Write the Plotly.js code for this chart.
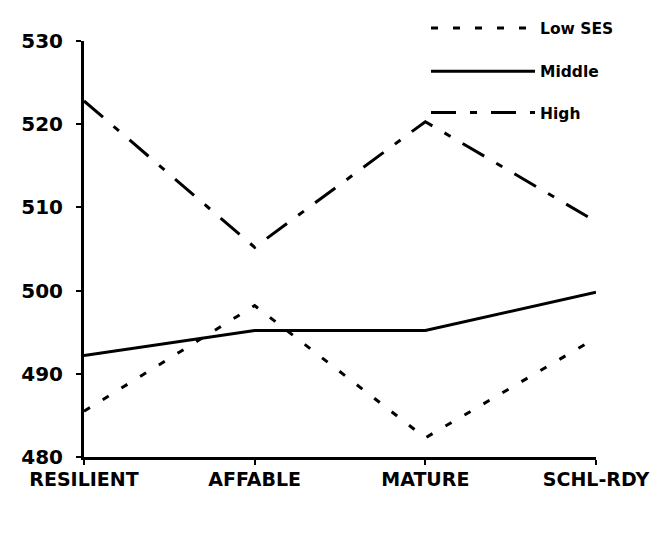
<!DOCTYPE html>
<html>
<head>
<meta charset="utf-8">
<script src="https://cdn.plot.ly/plotly-3.0.1.min.js"></script>
<style>
  html, body { margin: 0; padding: 0; background: #fff; }
  #chart { width: 666px; height: 537px; }
</style>
</head>
<body>
<div id="chart"></div>
<script>
const categories = ['RESILIENT', 'AFFABLE', 'MATURE', 'SCHL-RDY'];
const lowSes = [485.5, 498.2, 482.3, 494.3];
const middle = [492.2, 495.2, 495.2, 499.8];
const high = [522.8, 505.2, 520.3, 508.3];
const yTicks = [480, 490, 500, 510, 520, 530];

const font = { family: 'DejaVu Sans, Arial, sans-serif', size: 16, color: '#000', weight: 'bold' };

const traceLow = {
  x: categories,
  y: lowSes,
  name: 'Low SES',
  mode: 'lines',
  type: 'scatter',
  line: { color: '#000', width: 3, dash: '7px,15px' },
  legend: 'legend'
};

const traceMid = {
  x: categories,
  y: middle,
  name: 'Middle',
  mode: 'lines',
  type: 'scatter',
  line: { color: '#000', width: 3 },
  legend: 'legend2'
};

const traceHigh = {
  x: categories,
  y: high,
  name: 'High',
  mode: 'lines',
  type: 'scatter',
  line: { color: '#000', width: 3, dash: '25px,14px,7px,14px' },
  legend: 'legend3'
};

// one legend per series so the rows can sit as far apart as in the original
const legendBase = {
  x: 0.668,
  xanchor: 'left',
  yanchor: 'middle',
  bgcolor: 'rgba(0,0,0,0)',
  font: { ...font, size: 15.5 },
  itemwidth: 104,
  borderwidth: 0
};

const layout = {
  width: 666,
  height: 537,
  margin: { l: 84, r: 70, t: 41, b: 80 },
  paper_bgcolor: '#fff',
  plot_bgcolor: '#fff',
  font: font,
  xaxis: {
    type: 'category',
    range: [0, 3],
    showgrid: false,
    zeroline: false,
    showline: true,
    linecolor: '#000',
    linewidth: 3,
    ticks: 'outside',
    ticklen: 5,
    tickwidth: 2,
    tickcolor: '#000',
    ticklabelstandoff: -2,
    tickfont: { ...font, size: 19 }
  },
  yaxis: {
    range: [480, 530],
    tickvals: yTicks,
    showgrid: false,
    zeroline: false,
    showline: true,
    linecolor: '#000',
    linewidth: 3,
    ticks: 'outside',
    ticklen: 5,
    tickwidth: 2,
    tickcolor: '#000',
    ticklabelstandoff: 9,
    tickfont: { ...font, size: 20 }
  },
  showlegend: true,
  legend: { ...legendBase, y: 1.03 },
  legend2: { ...legendBase, y: 0.926 },
  legend3: { ...legendBase, y: 0.827 }
};

Plotly.newPlot('chart', [traceLow, traceMid, traceHigh], layout, { displayModeBar: false, staticPlot: true });
</script>
</body>
</html>
